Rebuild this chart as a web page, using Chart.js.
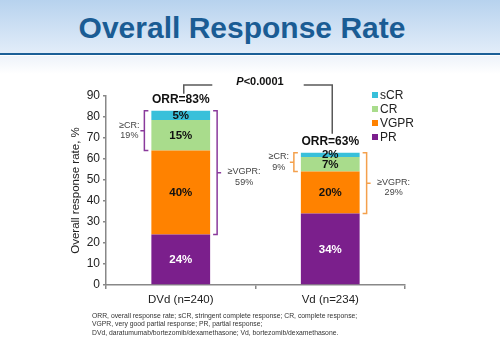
<!DOCTYPE html>
<html>
<head>
<meta charset="utf-8">
<script src="https://cdn.jsdelivr.net/npm/chart.js@4"></script>
<style>
  html, body { margin: 0; padding: 0; background: #fff; }
  #slide { position: relative; width: 500px; height: 352px; overflow: hidden; background: #fff; font-family: "Liberation Sans", Arial, sans-serif; }
  #band { position: absolute; left: 0; top: 0; width: 500px; height: 53px; background: linear-gradient(#b7d2ee, #e2edf9); border-bottom: 2.5px solid #1b5f97; }
  #fade { position: absolute; left: 0; top: 55.5px; width: 500px; height: 18px; background: linear-gradient(#eef3fa, #fff); }
  #titre { position: absolute; left: 0; width: 484px; top: 11px; text-align: center; font-weight: bold; font-size: 30px; color: #1a5c94; }
  #c { position: absolute; left: 0; top: 0; }
  #notes { position: absolute; left: 92px; top: 312px; font-size: 6.8px; line-height: 8.3px; color: #333; }
</style>
</head>
<body>
<div id="slide">
  <div id="band"></div>
  <div id="fade"></div>
  <div id="titre">Overall Response Rate</div>
  <canvas id="c" width="500" height="352"></canvas>
  <div id="notes">
    ORR, overall response rate; sCR, stringent complete response; CR, complete response;<br>
    VGPR, very good partial response; PR, partial response;<br>
    DVd, daratumumab/bortezomib/dexamethasone; Vd, bortezomib/dexamethasone.
  </div>
</div>
<script>
/* Taxa de resposta global — barras empilhadas DVd x Vd. */

const categorias = ["DVd (n=240)", "Vd (n=234)"];

// alturas (os rótulos arredondados vêm em separado)
const prValores   = [24, 34];
const vgprValores = [40, 20];
const crValores   = [14.6, 7];
const scrValores  = [4.4, 2];

const prRotulos   = ["24%", "34%"];
const vgprRotulos = ["40%", "20%"];
const crRotulos   = ["15%", "7%"];
const scrRotulos  = ["5%", "2%"];

const orrRotulos   = ["ORR=83%", "ORR=63%"];
const geCrRotulos   = ["19%", "9%"];
const geVgprRotulos = ["59%", "29%"];

const yMin = 0, yMax = 90, yPasso = 10;
const tituloY = "Overall response rate, %";

const FONTE = '"Liberation Sans", Arial, sans-serif';
const CORES = { PR: "#7b1f8c", VGPR: "#ff8200", CR: "#a9dc8c", sCR: "#38c0da" };
const COR_CHAVE = ["#8a3a9c", "#f4a04c"]; // chaves: roxa p/ DVd, laranja p/ Vd

function chave(ctx, x, yTop, yBot, lado, cor) {
  // lado -1 = chave à esquerda da barra, +1 = à direita
  const meio = (yTop + yBot) / 2;
  ctx.save();
  ctx.strokeStyle = cor;
  ctx.lineWidth = 1.5;
  ctx.beginPath();
  ctx.moveTo(x - lado * 4, yTop);
  ctx.lineTo(x, yTop);
  ctx.lineTo(x, yBot);
  ctx.lineTo(x - lado * 4, yBot);
  ctx.moveTo(x, meio);
  ctx.lineTo(x + lado * 4, meio);
  ctx.stroke();
  ctx.restore();
  return meio;
}

function textoChave(ctx, x, y, linhas) {
  ctx.save();
  ctx.font = `9px ${FONTE}`;
  ctx.fillStyle = "#444";
  ctx.textAlign = "center";
  ctx.textBaseline = "middle";
  ctx.fillText(linhas[0], x, y);
  ctx.fillText(linhas[1], x, y + 10.5);
  ctx.restore();
}

const anotacoes = {
  id: "anotacoes",
  afterDatasetsDraw(chart) {
    const { ctx, scales: { y } } = chart;
    const metas = chart.data.datasets.map((_, i) => chart.getDatasetMeta(i));
    const rotulos = [prRotulos, vgprRotulos, crRotulos, scrRotulos];

    // rótulos dentro dos segmentos
    ctx.save();
    ctx.font = `bold 11.5px ${FONTE}`;
    ctx.textAlign = "center";
    ctx.textBaseline = "middle";
    metas.forEach((m, d) => {
      m.data.forEach((bar, i) => {
        ctx.fillStyle = d === 0 ? "#fff" : "#111";
        ctx.fillText(rotulos[d][i], bar.x, (bar.y + bar.base) / 2 + 0.5);
      });
    });
    ctx.restore();

    const ySup = [], xs = [];
    categorias.forEach((_, i) => {
      const pr = prValores[i], vg = vgprValores[i], cr = crValores[i], sc = scrValores[i];
      const total = pr + vg + cr + sc;
      const bar = metas[0].data[i];
      const meiaLarg = bar.width / 2;
      xs.push(bar.x);

      // ORR acima da pilha
      const yOrr = y.getPixelForValue(total) - 11;
      ySup.push(yOrr);
      ctx.save();
      ctx.font = `bold 12px ${FONTE}`;
      ctx.fillStyle = "#111";
      ctx.textAlign = "center";
      ctx.textBaseline = "middle";
      ctx.fillText(orrRotulos[i], bar.x, yOrr);
      ctx.restore();

      // ≥CR à esquerda
      const xe = bar.x - meiaLarg - 7;
      const m1 = chave(ctx, xe, y.getPixelForValue(total), y.getPixelForValue(pr + vg), -1, COR_CHAVE[i]);
      textoChave(ctx, xe - 15, m1 - 5.5, ["\u2265CR:", geCrRotulos[i]]);

      // ≥VGPR à direita
      const xd = bar.x + meiaLarg + 7;
      const m2 = chave(ctx, xd, y.getPixelForValue(total), y.getPixelForValue(pr), 1, COR_CHAVE[i]);
      textoChave(ctx, xd + 27, m2 - 1, ["\u2265VGPR:", geVgprRotulos[i]]);
    });

    // colchete do P-valor
    const yLinha = y.getPixelForValue(yMax) - 11;
    const xl = xs[0] + 3, xr = xs[1] + 2;
    const xc = (xl + xr) / 2 + 2;
    ctx.save();
    ctx.font = `bold 11px ${FONTE}`;
    const wP = ctx.measureText("P").width;
    const wResto = ctx.measureText("<0.0001").width;
    const x0 = xc - (wP + wResto) / 2;
    ctx.strokeStyle = "#595959";
    ctx.lineWidth = 1.5;
    ctx.beginPath();
    ctx.moveTo(xl, ySup[0] - 6);
    ctx.lineTo(xl, yLinha);
    ctx.lineTo(x0 - 24, yLinha);
    ctx.moveTo(x0 + wP + wResto + 20, yLinha);
    ctx.lineTo(xr, yLinha);
    ctx.lineTo(xr, ySup[1] - 8);
    ctx.stroke();
    ctx.fillStyle = "#111";
    ctx.textBaseline = "middle";
    ctx.textAlign = "left";
    ctx.font = `italic bold 11px ${FONTE}`;
    ctx.fillText("P", x0, yLinha - 3);
    ctx.font = `bold 11px ${FONTE}`;
    ctx.fillText("<0.0001", x0 + wP, yLinha - 3);

    // legenda (de cima p/ baixo: sCR, CR, VGPR, PR)
    ctx.font = `12px ${FONTE}`;
    const ordem = chart.data.datasets.slice().reverse();
    ordem.forEach((ds, k) => {
      const yy = 95 + k * 14;
      ctx.fillStyle = ds.backgroundColor;
      ctx.fillRect(372, yy - 3, 6, 6);
      ctx.fillStyle = "#222";
      ctx.fillText(ds.label, 380, yy + 0.5);
    });
    ctx.restore();
  }
};

new Chart(document.getElementById("c"), {
  type: "bar",
  data: {
    labels: categorias,
    datasets: [
      { label: "PR",   data: prValores,   backgroundColor: CORES.PR },
      { label: "VGPR", data: vgprValores, backgroundColor: CORES.VGPR },
      { label: "CR",   data: crValores,   backgroundColor: CORES.CR },
      { label: "sCR",  data: scrValores,  backgroundColor: CORES.sCR },
    ],
  },
  options: {
    responsive: false, animation: false,
    layout: { padding: { left: 69, right: 95, top: 96, bottom: 47 } },
    datasets: { bar: { categoryPercentage: 1, barPercentage: 0.393 } },
    plugins: { legend: { display: false }, tooltip: { enabled: false } },
    scales: {
      x: {
        stacked: true,
        grid: { drawOnChartArea: false, tickLength: 4, color: "#888", lineWidth: 1.5 },
        border: { color: "#888", width: 1.5 },
        ticks: { font: { family: FONTE, size: 11.5 }, color: "#222", padding: 4 },
        afterFit: s => { s.height = 20; },
      },
      y: {
        stacked: true, min: yMin, max: yMax,
        grid: { drawOnChartArea: false, tickLength: 3, color: "#888", lineWidth: 1.5 },
        border: { color: "#888", width: 1.5 },
        ticks: { stepSize: yPasso, font: { family: FONTE, size: 12 }, color: "#222", padding: 3 },
        title: { display: true, text: tituloY, font: { family: FONTE, size: 11.5 }, color: "#222", padding: 0 },
        afterFit: s => { s.width = 37; },
      },
    },
  },
  plugins: [anotacoes],
});
</script>
</body>
</html>
